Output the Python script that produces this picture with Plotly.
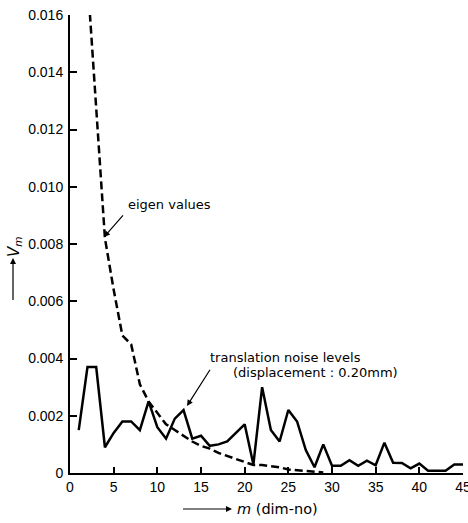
import plotly.graph_objects as go

# Data
m_noise = list(range(1, 46))
noise_levels = [0.0015, 0.0037, 0.0037, 0.0009, 0.0014, 0.0018, 0.0018, 0.0015, 0.0025, 0.0016,
                0.0012, 0.0019, 0.0022, 0.0012, 0.0013, 0.00095, 0.001, 0.0011, 0.0014, 0.0017,
                0.0003, 0.003, 0.0015, 0.0011, 0.0022, 0.0018, 0.0008, 0.0002, 0.001, 0.00025,
                0.00025, 0.00045, 0.00025, 0.00043, 0.00027, 0.00106, 0.00036, 0.00035, 0.00016, 0.00033,
                0.00008, 0.00008, 0.00008, 0.0003, 0.0003]

m_eigen = list(range(2, 30))
eigen_values = [0.0173, 0.0128, 0.0082, 0.0064, 0.0048, 0.0045, 0.0031, 0.0025, 0.0021, 0.0017,
                0.0015, 0.0013, 0.0011, 0.00095, 0.00085, 0.0007, 0.0006, 0.0005, 0.00038, 0.00028,
                0.00028, 0.00025, 0.0002, 0.00012, 0.0001, 0.00007, 0.00004, 0.00002]

x_ticks = [0, 5, 10, 15, 20, 25, 30, 35, 40, 45]
y_ticks = [0, 0.002, 0.004, 0.006, 0.008, 0.010, 0.012, 0.014, 0.016]
y_tick_labels = ["0", "0.002", "0.004", "0.006", "0.008", "0.010", "0.012", "0.014", "0.016"]

W, H = 468, 523
PL, PR, PT, PB = 70, 463, 15, 473  # plot area in pixels
L, T, R, B = PL, PT, W - PR, H - PB
PW, PH = PR - PL, PB - PT


def px(x):
    return (x - PL) / PW


def py(y):
    return (PB - y) / PH


fig = go.Figure()
fig.add_trace(go.Scatter(x=m_eigen, y=eigen_values, mode="lines",
                         line=dict(color="black", width=2.5, dash="8px,4px"),
                         showlegend=False))
fig.add_trace(go.Scatter(x=m_noise, y=noise_levels, mode="lines",
                         line=dict(color="black", width=2.5),
                         showlegend=False))

tick_font = dict(family="Liberation Sans Narrow, Liberation Sans, Arial", size=14, color="black")
ann_font = dict(family="DejaVu Sans, sans-serif", size=13, color="black")

fig.update_layout(
    width=W, height=H,
    margin=dict(l=L, r=R, t=T, b=B),
    plot_bgcolor="white", paper_bgcolor="white",
    xaxis=dict(range=[0, 45], tickvals=x_ticks, ticks="inside", ticklen=6, tickwidth=1.5,
               tickcolor="black", showline=True, linecolor="black", linewidth=2,
               showgrid=False, zeroline=False, tickfont=tick_font, automargin=False,
               ticklabeloverflow="allow"),
    yaxis=dict(range=[0, 0.016], tickvals=y_ticks, ticktext=y_tick_labels, ticks="inside",
               ticklen=7, tickwidth=1.5, tickcolor="black", showline=True, linecolor="black",
               linewidth=2, showgrid=False, zeroline=False, tickfont=tick_font,
               automargin=False, ticklabelstandoff=2, ticklabeloverflow="allow"),
)

annotations = [
    # eigen values label + arrow
    dict(xref="paper", yref="paper", x=px(126), y=py(205), text="eigen values",
         showarrow=False, xanchor="left", yanchor="middle", font=ann_font),
    dict(xref="paper", yref="paper", x=px(104), y=py(237), text=" ", showarrow=True,
         ax=22, ay=-25, arrowhead=2, arrowsize=1, arrowwidth=1.2, arrowcolor="black"),
    # noise label + arrow
    dict(xref="paper", yref="paper", x=px(208), y=py(357), text="translation noise levels",
         showarrow=False, xanchor="left", yanchor="middle", font=ann_font),
    dict(xref="paper", yref="paper", x=px(231), y=py(373), text="(displacement : 0.20mm)",
         showarrow=False, xanchor="left", yanchor="middle", font=ann_font),
    dict(xref="paper", yref="paper", x=px(187), y=py(406), text=" ", showarrow=True,
         ax=26, ay=-41, arrowhead=2, arrowsize=1, arrowwidth=1.2, arrowcolor="black"),
    # x axis title
    dict(xref="paper", yref="paper", x=px(232), y=py(509), text=" ", showarrow=True,
         ax=-52, ay=0, arrowhead=2, arrowsize=1, arrowwidth=1.2, arrowcolor="black"),
    dict(xref="paper", yref="paper", x=px(235), y=py(509), text="<i>m</i> (dim-no)",
         showarrow=False, xanchor="left", yanchor="middle",
         font=dict(family="DejaVu Sans, sans-serif", size=14.5, color="black")),
    # y axis title
    dict(xref="paper", yref="paper", x=px(13), y=py(258), text=" ", showarrow=True,
         ax=0, ay=52, arrowhead=2, arrowsize=1, arrowwidth=1.2, arrowcolor="black"),
    dict(xref="paper", yref="paper", x=px(14), y=py(247), text="<i>V<sub>m</sub></i>",
         showarrow=False, textangle=-90, xanchor="center", yanchor="middle",
         font=dict(family="DejaVu Sans, sans-serif", size=15, color="black")),
]
fig.update_layout(annotations=annotations)

# remove the page's default body margin so the figure sits at the window origin
fig.write_html("out.html", config={"displayModeBar": False},
               post_script="document.body.style.margin='0';document.body.style.overflow='hidden';")
